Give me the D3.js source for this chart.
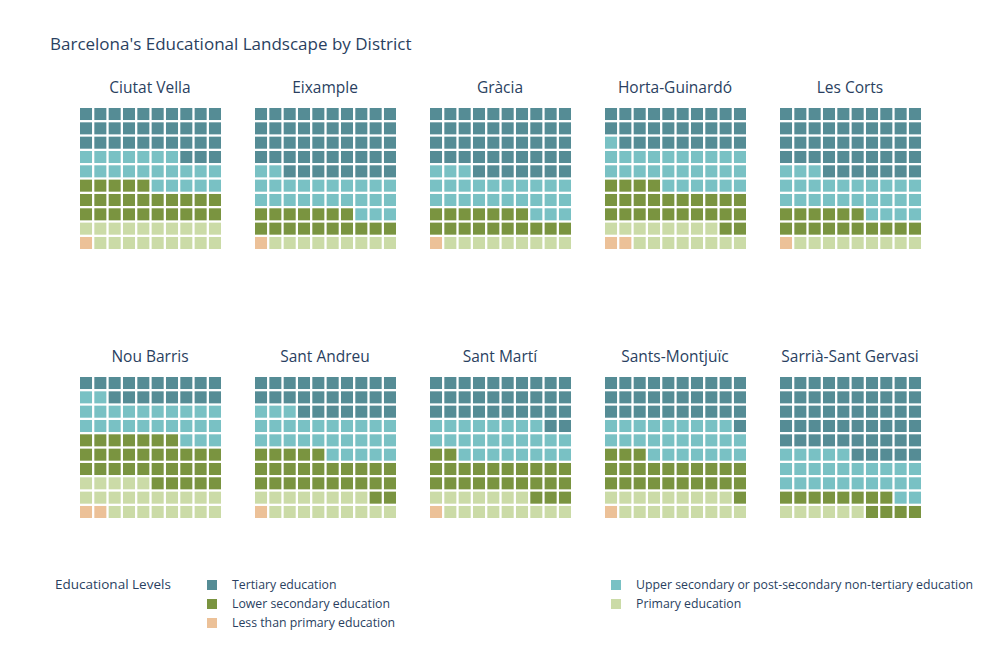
<!DOCTYPE html>
<html><head><meta charset="utf-8">
<script src="https://cdn.jsdelivr.net/npm/d3@7"></script>
<style>body{margin:0;background:#fff;font-family:"Open Sans",sans-serif}</style>
</head><body><svg id="svg" width="1000" height="650"></svg>
<script>
const districts = ["Ciutat Vella","Eixample","Gràcia","Horta-Guinardó","Les Corts",
  "Nou Barris","Sant Andreu","Sant Martí","Sants-Montjuïc","Sarrià-Sant Gervasi"];
const levels = ["Less than primary education","Primary education","Lower secondary education",
  "Upper secondary or post-secondary non-tertiary education","Tertiary education"];
const colors = ["#ecc198","#cbdba7","#7a9440","#79c1c4","#558c95"];
// squares per district, one per percent, in the order of levels
const lessPrimary = [1,1,1,2,1,2,1,1,1,0];
const primary     = [19,9,9,16,9,23,17,16,18,6];
const lowerSec    = [25,17,17,26,16,32,27,25,24,12];
const upperSec    = [22,25,26,27,27,25,28,26,26,27];
const tertiary    = [33,48,47,29,47,18,27,32,31,55];
const series = [lessPrimary, primary, lowerSec, upperSec, tertiary];

const svg = d3.select('#svg');
const textColor = "#2a3f5f";

svg.append('text').attr('x', 50).attr('y', 50).attr('font-size', 17)
  .attr('fill', textColor).text("Barcelona's Educational Landscape by District");

const colX = d3.scaleBand().domain(d3.range(5)).range([80, 955]).paddingInner(0);
const rowY = d3.scaleOrdinal().domain([0, 1]).range([108, 377]);
const cell = d3.scaleBand().domain(d3.range(10)).range([0, 141]).paddingInner(0.16);

districts.forEach((name, i) => {
  const gx = colX(i % 5), gy = rowY(Math.floor(i / 5));
  const g = svg.append('g').attr('transform', `translate(${gx},${gy})`);
  g.append('text').attr('x', 70).attr('y', -15).attr('text-anchor', 'middle')
    .attr('font-size', 15.5).attr('fill', textColor).text(name);
  const cells = [];
  series.forEach((s, k) => { for (let n = 0; n < s[i]; n++) cells.push(k); });
  g.selectAll('rect').data(cells).enter().append('rect')
    .attr('x', (d, j) => cell(j % 10))
    .attr('y', (d, j) => cell(9 - Math.floor(j / 10)))
    .attr('width', cell.bandwidth()).attr('height', cell.bandwidth())
    .attr('fill', d => colors[d]);
});

// legend
svg.append('text').attr('x', 55).attr('y', 589).attr('font-size', 13.5)
  .attr('fill', textColor).text('Educational Levels');
const legendOrder = [4, 3, 2, 1, 0];
legendOrder.forEach((k, n) => {
  const lx = n % 2 === 0 ? 207 : 611;
  const ly = 585 + 19 * Math.floor(n / 2);
  svg.append('rect').attr('x', lx).attr('y', ly - 5).attr('width', 10).attr('height', 10)
    .attr('fill', colors[k]);
  svg.append('text').attr('x', lx + 25).attr('y', ly + 4).attr('font-size', 12.3)
    .attr('fill', textColor).text(levels[k]);
});
</script></body></html>
